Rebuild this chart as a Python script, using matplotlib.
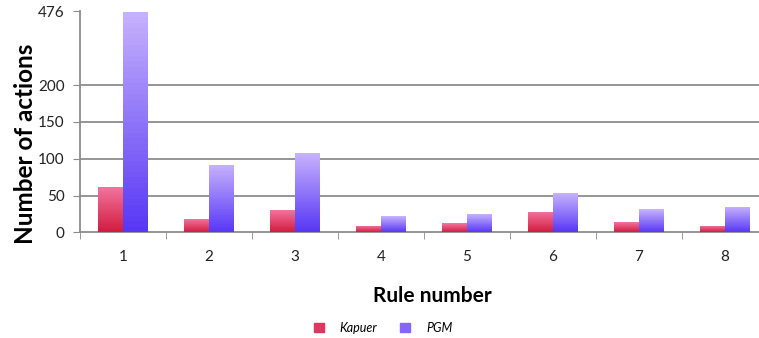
import numpy as np
import matplotlib
matplotlib.use("Agg")
import matplotlib.pyplot as plt
from matplotlib.colors import LinearSegmentedColormap
from matplotlib.patches import Patch

plt.rcParams['font.family'] = ['Lato', 'DejaVu Sans']

rules = ['1', '2', '3', '4', '5', '6', '7', '8']
kapuer = [61, 18, 30, 9, 12, 28, 14, 9]
pgm = [476, 92, 108, 22, 25, 53, 31, 35]
ytick_vals = [0, 50, 100, 150, 200, 476]

# broken y scale: linear up to 200, compressed above
BREAK = 200
SQUEEZE = 100 / 276


def fwd(y):
    y = np.asarray(y, dtype=float)
    return np.where(y <= BREAK, y, BREAK + (y - BREAK) * SQUEEZE)


def inv(y):
    y = np.asarray(y, dtype=float)
    return np.where(y <= BREAK, y, BREAK + (y - BREAK) / SQUEEZE)


pink = LinearSegmentedColormap.from_list('pink', ['#d11a3e', '#f2729c'])
purple = LinearSegmentedColormap.from_list('purple', ['#5636f5', '#c6b2fc'])

fig = plt.figure(figsize=(7.59, 3.38), dpi=100)
ax = fig.add_axes([80 / 759, (338 - 232.3) / 338, 688 / 759, (232.3 - 11.5) / 338])
ax.set_yscale('function', functions=(fwd, inv))

x = np.arange(len(rules))
w = 0.285
nsteps = 40


def grad_bars(xs, vals, cmap):
    for xi, v in zip(xs, vals):
        top = float(fwd(v))
        edges = inv(np.linspace(0, top, nsteps + 1))
        for i in range(nsteps):
            ax.bar(xi, edges[i + 1] - edges[i], width=w, bottom=edges[i],
                   color=cmap((i + 0.5) / nsteps), linewidth=0, zorder=3)


grad_bars(x - w / 2, kapuer, pink)
grad_bars(x + w / 2, pgm, purple)

ax.set_xlim(-0.5, len(rules) - 0.5)
ax.set_ylim(0, 476)
ax.set_yticks(ytick_vals)
ax.set_yticklabels([str(v) for v in ytick_vals], fontsize=11, color='#222222')
for v in ytick_vals[1:-1]:
    ax.axhline(v, color='#8c8c8c', linewidth=1.3, zorder=1)

ax.set_xticks(x)
ax.set_xticklabels(rules, fontsize=11, color='#222222')
ax.set_xticks(np.arange(len(rules) + 1) - 0.5, minor=True)
ax.tick_params(axis='x', which='major', length=0, pad=13)
ax.tick_params(axis='x', which='minor', length=5, color='#8c8c8c', direction='out')
ax.tick_params(axis='y', length=5, color='#8c8c8c', direction='out', pad=6)

for side in ['top', 'right']:
    ax.spines[side].set_visible(False)
for side in ['left', 'bottom']:
    ax.spines[side].set_color('#8c8c8c')
    ax.spines[side].set_linewidth(1.3)

ax.set_ylabel('Number of actions', fontsize=17.5, fontweight='bold')
ax.yaxis.set_label_coords(-(80 - 37) / 688, 0.40)
ax.set_xlabel('Rule number', fontsize=15, fontweight='bold')
ax.xaxis.set_label_coords((432 - 80) / 688, -0.245)

handles = [Patch(color='#e0365f', label='Kapuer'), Patch(color='#8466f8', label='PGM')]
fig.legend(handles=handles, loc='center', bbox_to_anchor=(383 / 759, 1 - 328 / 338),
           ncol=2, frameon=False, prop={'style': 'italic', 'size': 9},
           handlelength=0.8, handleheight=0.8, columnspacing=1.8, handletextpad=1.3)

fig.savefig('out.png', dpi=100)
